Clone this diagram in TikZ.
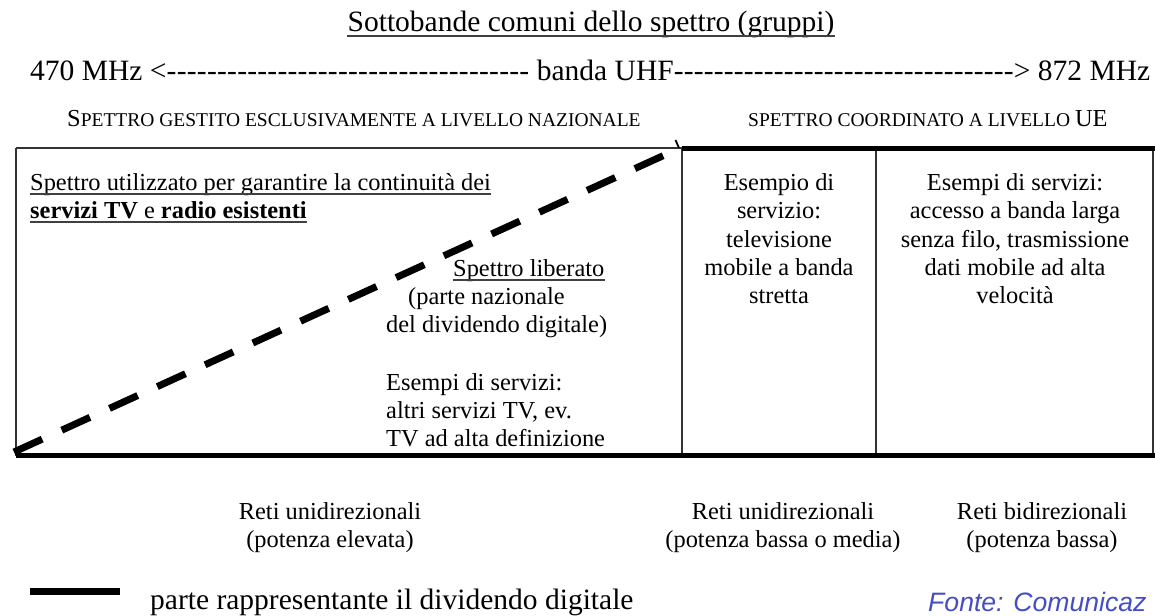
\documentclass[tikz,border=0pt]{standalone}
\usepackage{fontspec}
\setmainfont{Liberation Serif}
\newfontfamily\fontesans{Liberation Sans}
\definecolor{fonteblue}{RGB}{68,78,196}
\begin{document}
\begin{tikzpicture}[x=1pt,y=-1pt,
  txt/.style={inner sep=0pt, font=\fontsize{24.4}{28.3}\selectfont},
  ctxt/.style={txt, align=center, anchor=north},
  big/.style={inner sep=0pt, font=\fontsize{29.5}{34}\selectfont},
  uline/.style={line width=1.3pt, draw=black!75},
  thinline/.style={line width=1.3pt, draw=black!80},
  thickline/.style={line width=5pt},
  dashline/.style={line width=7pt, dash pattern=on 31pt off 21.5pt},
  legline/.style={line width=7pt}
  ]
\useasboundingbox (0,0) rectangle (1155,615);

% title
\node[big, anchor=base] (title) at (591,32) {Sottobande comuni dello spettro (gruppi)};
\draw[uline] ([yshift=-4pt]title.base west) -- ([yshift=-4pt]title.base east);

% band line
\node[big, anchor=base west] (band) at (30,81)
  {\hbox to 1120pt{470 MHz <\xleaders\hbox{-}\hskip 0pt plus 365fil\ banda UHF\xleaders\hbox{-}\hskip 0pt plus 342fil> 872 MHz}};

% headers
\node[inner sep=0pt, anchor=base west] (hnat) at (67,126)
  {\fontsize{24.4}{28}\selectfont S\fontsize{19.5}{28}\selectfont PETTRO GESTITO ESCLUSIVAMENTE A LIVELLO NAZIONALE};
\node[inner sep=0pt, anchor=base west] (hue) at (748,126)
  {\fontsize{19.5}{28}\selectfont SPETTRO COORDINATO A LIVELLO \fontsize{24.4}{28}\selectfont UE};

% box
\coordinate (tl) at (16,148);
\coordinate (tm) at (682,148);
\coordinate (tm2) at (876,148);
\coordinate (tr) at (1153,148);
\coordinate (trb) at (1153,455.5);
\coordinate (bl) at (16,455.5);
\coordinate (bm) at (682,455.5);
\coordinate (bm2) at (876,455.5);
\coordinate (br) at (1155,455.5);
\coordinate (thickA) at (682,148.5);
\coordinate (thickB) at (1155,148.5);
\draw[thinline] (tl) -- (tm);
\draw[thinline] (tl) -- (bl);
\draw[thinline] (tm) -- (bm);
\draw[thinline] (tm2) -- (bm2);
\draw[thinline] (tr) -- (trb);
\draw[thickline] (thickA) -- (thickB);
\draw[thickline] (bl) -- (br);

% dashed diagonal
\coordinate (dA) at (14,452);
\coordinate (dB) at (680,148);
\draw[dashline] (dA) -- (dB);
\coordinate (tickA) at (675.5,140);
\coordinate (tickB) at (679,148);
\draw[line width=1.8pt] (tickA) -- (tickB);

% left texts
\node[txt, anchor=base west] (cont1) at (30,190) {Spettro utilizzato per garantire la continuità dei};
\draw[uline] ([yshift=-4pt]cont1.base west) -- ([yshift=-4pt]cont1.base east);
\node[txt, anchor=base west] (cont2) at (30,218) {\textbf{servizi TV} e \textbf{radio esistenti}};
\draw[uline] ([yshift=-4pt]cont2.base west) -- ([yshift=-4pt]cont2.base east);

\node[txt, anchor=base west] (lib1) at (453,276) {Spettro liberato};
\draw[uline] ([yshift=-4pt]lib1.base west) -- ([yshift=-4pt]lib1.base east);
\node[txt, anchor=base west] (lib2) at (408,304) {(parte nazionale};
\node[txt, anchor=base west] (lib3) at (386,332) {del dividendo digitale)};
\node[txt, anchor=base west] (lib4) at (386,390) {Esempi di servizi:};
\node[txt, anchor=base west] (lib5) at (386,418) {altri servizi TV, ev.};
\node[txt, anchor=base west] (lib6) at (386,446) {TV ad alta definizione};

% columns
\node[ctxt] (mid) at (779,173.3) {Esempio di\\servizio:\\televisione\\mobile a banda\\stretta};
\node[ctxt] (right) at (1015,173.3) {Esempi di servizi:\\accesso a banda larga\\senza filo, trasmissione\\dati mobile ad alta\\velocità};

% bottom labels
\node[ctxt] (net1) at (330,502.3) {Reti unidirezionali\\(potenza elevata)};
\node[ctxt] (net2) at (783,502.3) {Reti unidirezionali\\(potenza bassa o media)};
\node[ctxt] (net3) at (1042,502.3) {Reti bidirezionali\\(potenza bassa)};

% legend
\coordinate (legA) at (30,591);
\coordinate (legB) at (120,591);
\draw[legline] (legA) -- (legB);
\node[big, anchor=base west] (legtxt) at (150,609) {parte rappresentante il dividendo digitale};

% source
\node[inner sep=0pt, anchor=base west, text=fonteblue, font=\fontesans\itshape\fontsize{26.6}{30}\selectfont] (fonte) at (928,611) {Fonte: Comunicaz};
\end{tikzpicture}
\end{document}
